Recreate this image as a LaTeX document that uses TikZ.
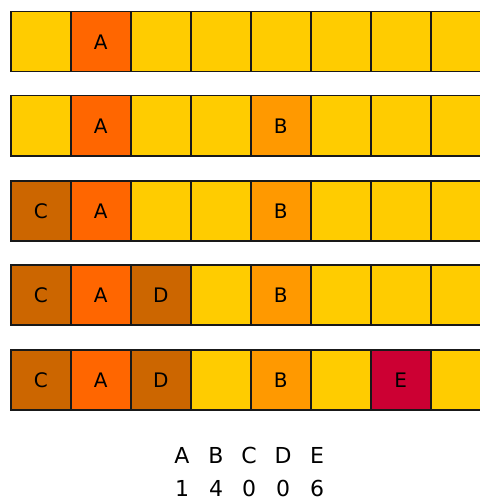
\documentclass[tikz,border=0pt]{standalone}
\usepackage{fontspec}
\setmainfont{DejaVu Sans}
\definecolor{cyel}{HTML}{FFCC00}
\definecolor{cora}{HTML}{FF6600}
\definecolor{cbrn}{HTML}{CC6600}
\definecolor{clor}{HTML}{FF9900}
\definecolor{cred}{HTML}{CC0033}
\tikzset{
  cell/.style={draw=black!90, line width=1.5pt, minimum width=60pt, minimum height=60pt, inner sep=0pt, anchor=north west, font=\fontsize{20}{20}\selectfont},
  legend/.style={font=\fontsize{22}{22}\selectfont, inner sep=0pt}
}
\begin{document}
\begin{tikzpicture}[x=1pt,y=-1pt]
\useasboundingbox (0,0) rectangle (479,500);
\foreach \r/\y/\cells in {
  0/11/{cyel//,cora/A,cyel//,cyel//,cyel//,cyel//,cyel//,cyel//},
  1/95/{cyel//,cora/A,cyel//,cyel//,clor/B,cyel//,cyel//,cyel//},
  2/180/{cbrn/C,cora/A,cyel//,cyel//,clor/B,cyel//,cyel//,cyel//},
  3/264/{cbrn/C,cora/A,cbrn/D,cyel//,clor/B,cyel//,cyel//,cyel//},
  4/349/{cbrn/C,cora/A,cbrn/D,cyel//,clor/B,cyel//,cred/E,cyel//}}{
  \foreach \col/\lab [count=\c from 0] in \cells {
    \node[cell, fill=\col] (r\r c\c) at ({10+60*\c},\y) {\lab};
  }
}
% Legend
\foreach \l/\n/\x in {A/1/182,B/4/216,C/0/249,D/0/283,E/6/317}{
  \node[legend] (l\l) at (\x,455) {\l};
  \node[legend] (n\l) at (\x,488) {\n};
}
\end{tikzpicture}
\end{document}
